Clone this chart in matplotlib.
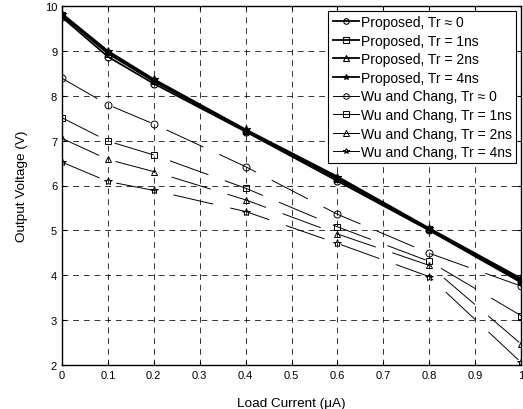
import matplotlib
matplotlib.use('Agg')
import matplotlib.pyplot as plt

plt.rcParams['font.family'] = ['Liberation Sans', 'DejaVu Sans']

# load current (uA)
current = [0, 0.1, 0.2, 0.4, 0.6, 0.8, 1.0]

# proposed
prop_tr0 = [9.75, 8.87, 8.27, 7.20, 6.10, 5.00, 3.84]
prop_tr1 = [9.79, 8.94, 8.32, 7.22, 6.14, 5.02, 3.87]
prop_tr2 = [9.81, 8.97, 8.35, 7.23, 6.17, 5.03, 3.90]
prop_tr4 = [9.83, 9.00, 8.37, 7.25, 6.20, 5.05, 3.93]

# Wu and Chang
wu_tr0 = [8.39, 7.80, 7.37, 6.42, 5.36, 4.49, 3.76]
wu_tr1 = [7.51, 6.99, 6.68, 5.94, 5.08, 4.31, 3.10]
wu_tr2 = [7.05, 6.58, 6.31, 5.68, 4.92, 4.22, 2.47]
wu_tr4 = [6.52, 6.09, 5.89, 5.42, 4.71, 3.97, 2.06]

labels_prop = ['Proposed, Tr \u2248 0', 'Proposed, Tr = 1ns',
               'Proposed, Tr = 2ns', 'Proposed, Tr = 4ns']
labels_wu = ['Wu and Chang, Tr \u2248 0', 'Wu and Chang, Tr = 1ns',
             'Wu and Chang, Tr = 2ns', 'Wu and Chang, Tr = 4ns']
markers = ['o', 's', '^', '*']

fig = plt.figure(figsize=(5.23, 4.10), dpi=100)
ax = fig.add_axes([62/523, 1 - 366/410, (521-62)/523, (366-7)/410])

for ys, lab, m in zip([prop_tr0, prop_tr1, prop_tr2, prop_tr4], labels_prop, markers):
    ax.plot(current, ys, color='k', lw=1.3, marker=m, ms=5 if m != '*' else 6,
            mfc='none', mec='k', mew=0.8, label=lab)

for ys, lab, m in zip([wu_tr0, wu_tr1, wu_tr2, wu_tr4], labels_wu, markers):
    ax.plot(current, ys, color='k', lw=0.7, marker=m, ms=5 if m != '*' else 6,
            mfc='none', mec='k', mew=0.7, label=lab, linestyle=(0, (42, 18)))

ax.set_xlim(0, 1)
ax.set_ylim(2, 10)
ax.set_xticks([i / 10 for i in range(11)])
ax.set_xticklabels(['0', '0.1', '0.2', '0.3', '0.4', '0.5', '0.6', '0.7', '0.8', '0.9', '1'])
ax.set_yticks(range(2, 11))
ax.tick_params(direction='in', labelsize=8, top=True, right=True, length=3)
ax.grid(True, color='k', lw=0.7, linestyle=(0, (6, 5)), alpha=0.8)
for s in ax.spines.values():
    s.set_linewidth(1.0)

ax.set_xlabel('Load Current (\u03bcA)', fontsize=9.7, labelpad=12)
ax.set_ylabel('Output Voltage (V)', fontsize=9.7, labelpad=12)

leg = ax.legend(loc='upper right', fontsize=10, handlelength=1.9, handletextpad=0.15,
                labelspacing=0.33, borderpad=0.3, borderaxespad=0.35, fancybox=False,
                framealpha=1, edgecolor='k')
leg.get_frame().set_linewidth(0.8)
for h in leg.get_lines():
    h.set_linestyle('-')
    h.set_markersize(4)

fig.savefig('out.png', dpi=100)
